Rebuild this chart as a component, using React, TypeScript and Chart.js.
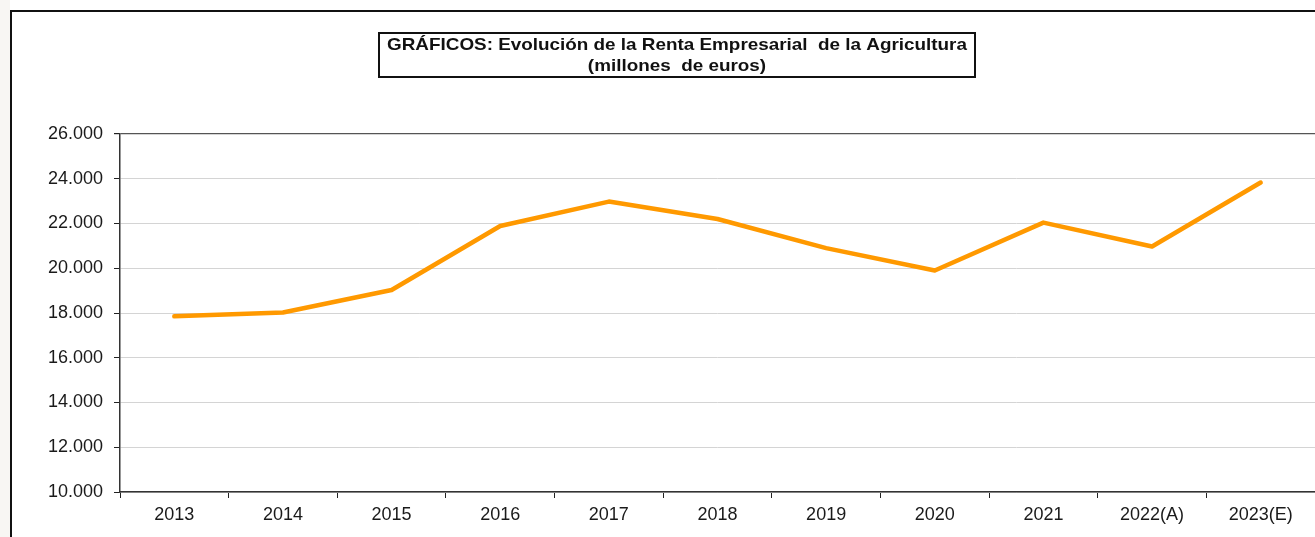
import React, { useEffect, useRef } from "react";
import { Chart, registerables } from "chart.js";

Chart.register(...registerables);

const categories = ["2013", "2014", "2015", "2016", "2017", "2018", "2019", "2020", "2021", "2022(A)", "2023(E)"];
const renta = [17850, 18020, 19030, 21890, 22980, 22200, 20900, 19900, 22040, 20970, 23830];
const yMin = 10000;
const yMax = 26000;
const yStep = 2000;
const titleLines = ["GRÁFICOS: Evolución de la Renta Empresarial  de la Agricultura", "(millones  de euros)"];

const W = 1315;
const H = 537;
const FONT = "'Liberation Sans', Arial, sans-serif";

function fmt(v: number): string {
  return String(Math.round(v)).replace(/\B(?=(\d{3})+(?!\d))/g, ".");
}

const framePlugin = {
  id: "frame",
  beforeDraw(chart: any) {
    const ctx = chart.ctx;
    ctx.save();
    ctx.fillStyle = "#ffffff";
    ctx.fillRect(0, 0, W, H);
    ctx.fillStyle = "#f8f6f3";
    ctx.fillRect(0, 0, 10, H);
    ctx.strokeStyle = "#111111";
    ctx.lineWidth = 2;
    ctx.beginPath();
    ctx.moveTo(11, H + 5);
    ctx.lineTo(11, 11);
    ctx.lineTo(W + 5, 11);
    ctx.stroke();
    // title box
    const bx = 379, by = 33, bw = 596, bh = 44;
    ctx.fillStyle = "#ffffff";
    ctx.fillRect(bx, by, bw, bh);
    ctx.strokeStyle = "#111111";
    ctx.lineWidth = 2;
    ctx.strokeRect(bx, by, bw, bh);
    ctx.fillStyle = "#111111";
    ctx.font = "bold 17px " + FONT;
    ctx.textAlign = "center";
    ctx.textBaseline = "middle";
    const cx = bx + bw / 2;
    const sx = 1.11;
    ctx.translate(cx, 0);
    ctx.scale(sx, 1);
    ctx.fillText(titleLines[0], 0, 45);
    ctx.fillText(titleLines[1], 0, 66);
    ctx.restore();
  },
};

export default function App() {
  const ref = useRef<HTMLCanvasElement | null>(null);
  useEffect(() => {
    const canvas = ref.current;
    if (!canvas) return;
    const chart = new Chart(canvas, {
      type: "line",
      data: {
        labels: categories,
        datasets: [
          {
            label: "Renta Empresarial",
            data: renta,
            borderColor: "#ff9900",
            backgroundColor: "#ff9900",
            borderWidth: 4.5,
            pointRadius: 0,
            tension: 0,
            borderCapStyle: "round",
            borderJoinStyle: "round",
          },
        ],
      },
      options: {
        animation: false,
        responsive: false,
        maintainAspectRatio: false,
        devicePixelRatio: 1,
        layout: { padding: { left: 0, top: 134, right: 0, bottom: 0 } },
        plugins: {
          legend: { display: false },
          title: { display: false },
          tooltip: { enabled: false },
        },
        scales: {
          x: {
            type: "category",
            offset: true,
            afterFit: (s: any) => {
              s.height = 45;
            },
            grid: {
              offset: true,
              drawOnChartArea: false,
              drawTicks: true,
              tickLength: 6,
              tickColor: "#222222",
            },
            border: { color: "#333333", width: 1.5 },
            ticks: {
              color: "#1a1a1a",
              font: { family: FONT, size: 18 },
              padding: 6,
              maxRotation: 0,
              autoSkip: false,
            },
          },
          y: {
            min: yMin,
            max: yMax,
            afterFit: (s: any) => {
              s.width = 120;
            },
            grid: {
              color: (c: any) => (c.tick && c.tick.value === yMax ? "#555555" : "#d4d4d4"),
              lineWidth: (c: any) => (c.tick && c.tick.value === yMax ? 1.2 : 1),
              tickLength: 6,
              tickColor: "#222222",
            },
            border: { color: "#333333", width: 1.5 },
            ticks: {
              stepSize: yStep,
              color: "#1a1a1a",
              font: { family: FONT, size: 18 },
              padding: 11,
              callback: (v: any) => fmt(Number(v)),
            },
          },
        },
      },
      plugins: [framePlugin],
    });
    return () => chart.destroy();
  }, []);
  return (
    <div style={{ position: "fixed", left: 0, top: 0, width: W, height: H, background: "#fff" }}>
      <canvas ref={ref} width={W} height={H} style={{ display: "block", width: W, height: H }} />
    </div>
  );
}
